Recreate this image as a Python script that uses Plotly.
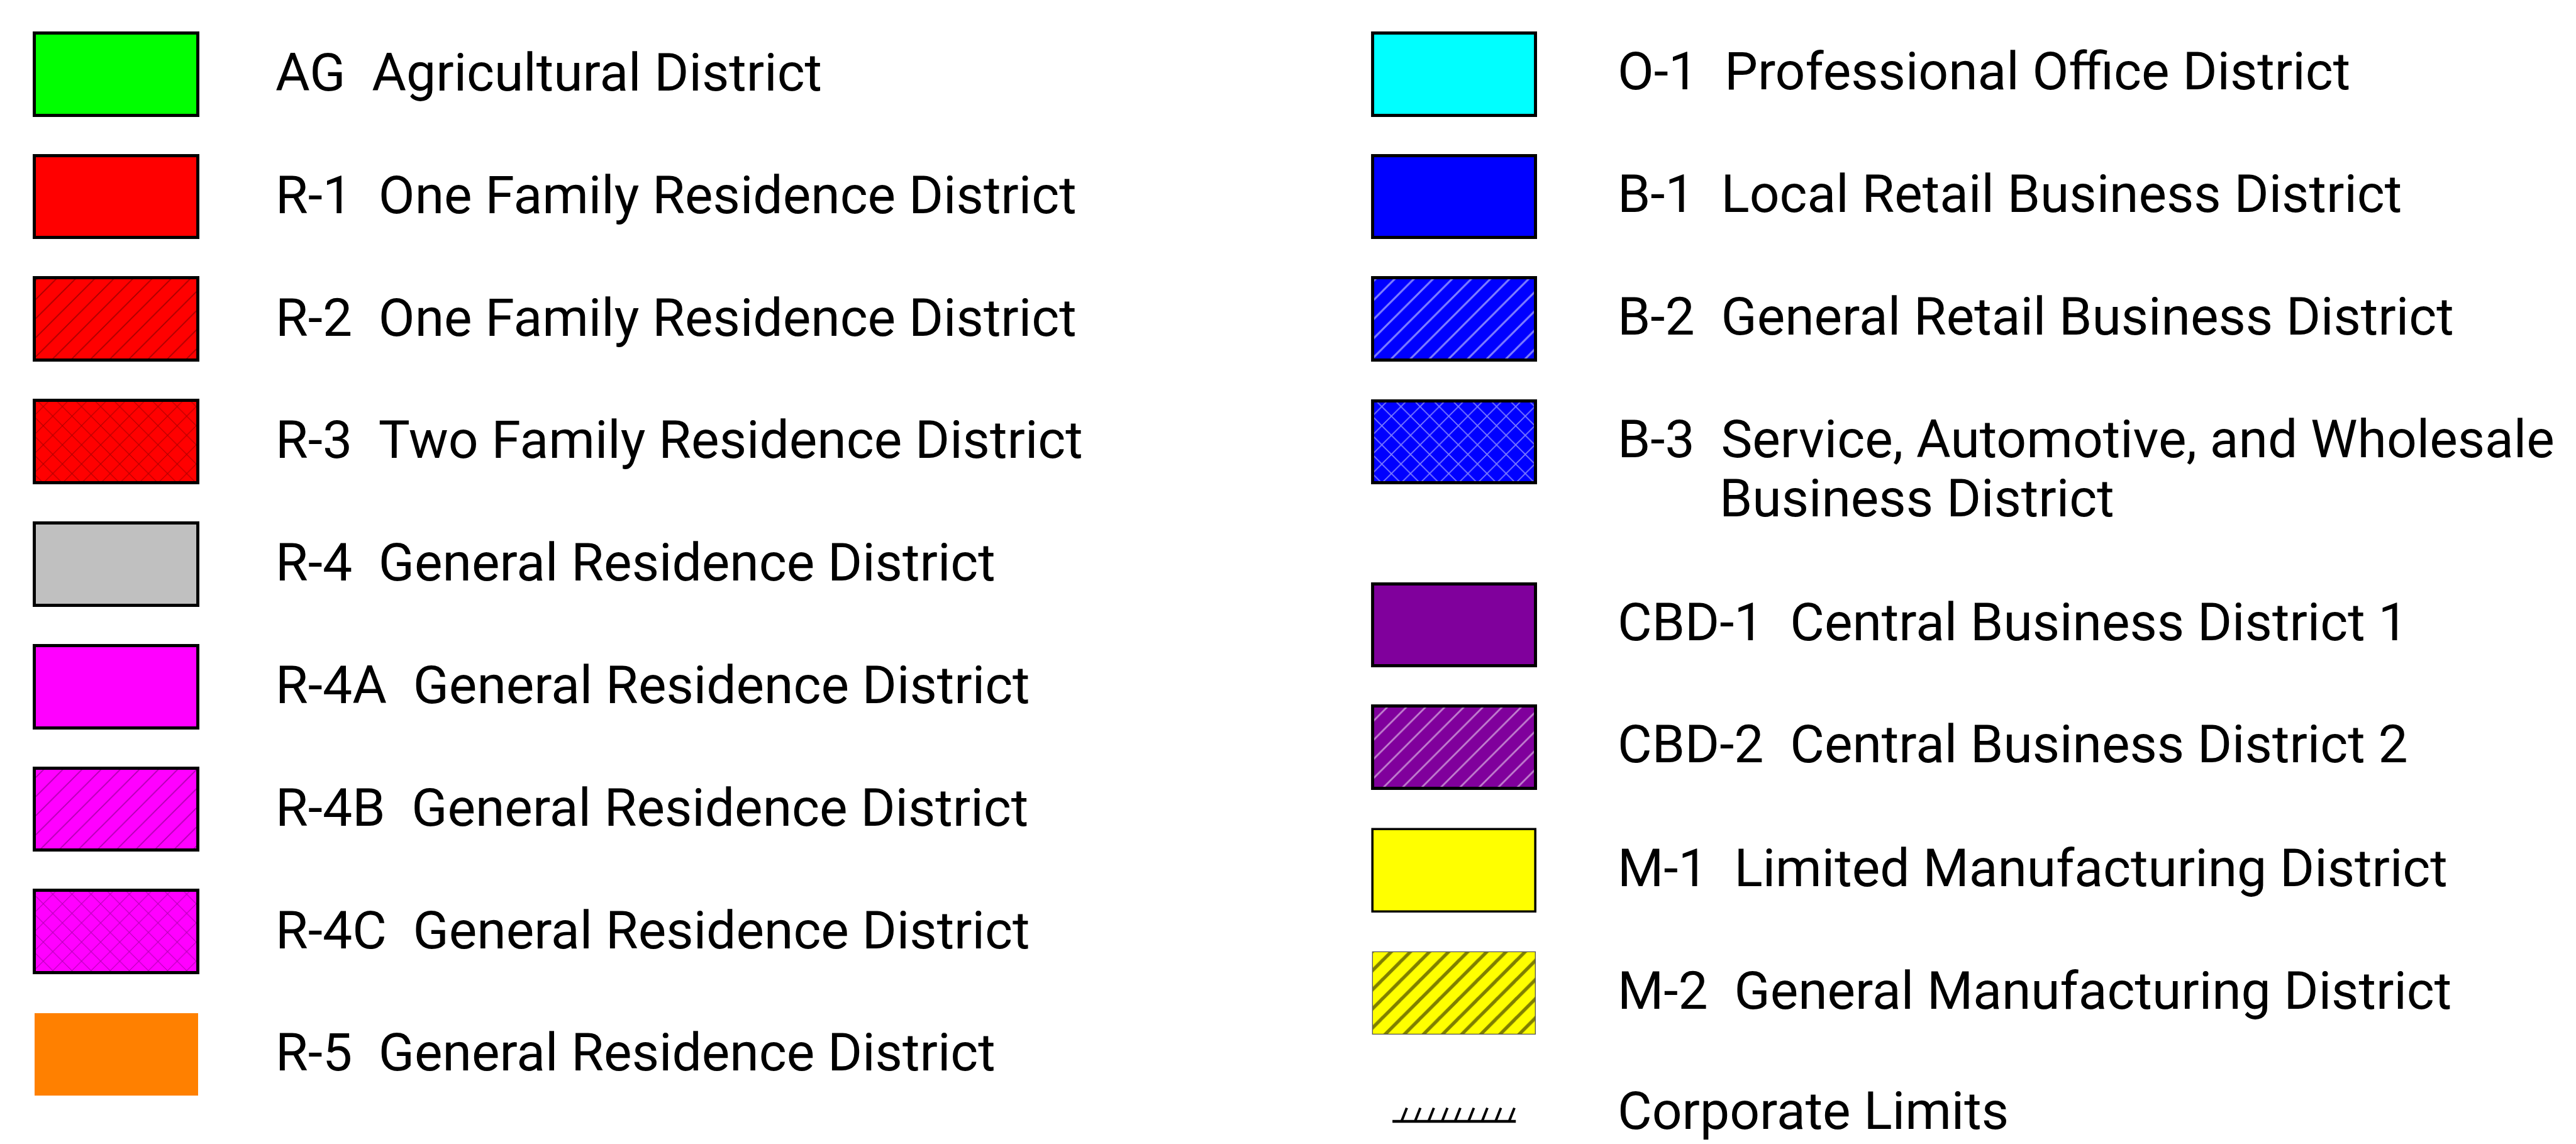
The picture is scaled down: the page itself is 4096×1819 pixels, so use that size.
import plotly.graph_objects as go

# ---------------- data ----------------
left_codes = ["AG", "R-1", "R-2", "R-3", "R-4", "R-4A", "R-4B", "R-4C", "R-5"]
left_names = ["Agricultural District", "One Family Residence District",
              "One Family Residence District", "Two Family Residence District",
              "General Residence District", "General Residence District",
              "General Residence District", "General Residence District",
              "General Residence District"]
left_fill = ["#00ff00", "#ff0000", "#ff0000", "#ff0000", "#c0c0c0",
             "#ff00ff", "#ff00ff", "#ff00ff", "#ff8000"]
left_pattern = ["", "", "/", "x", "", "", "/", "x", ""]

right_codes = ["O-1", "B-1", "B-2", "B-3", "CBD-1", "CBD-2", "M-1", "M-2"]
right_names = ["Professional Office District", "Local Retail Business District",
               "General Retail Business District",
               "Service, Automotive, and Wholesale",
               "Central Business District 1", "Central Business District 2",
               "Limited Manufacturing District", "General Manufacturing District"]
right_name_line2 = ["", "", "", "Business District", "", "", "", ""]
right_fill = ["#00ffff", "#0000ff", "#0000ff", "#0000ff", "#80009c",
              "#80009c", "#ffff00", "#ffff00"]
right_pattern = ["", "", "/", "x", "", "/", "", "/"]

limits_label = "Corporate Limits"

# ---------------- layout / styles ----------------
W_REF, H_REF = 4573, 2031
S = 4096 / W_REF

left_rows_y = [123, 340.5, 558, 775.5, 993, 1210.5, 1428, 1645.5, 1863]
right_rows_y = [123, 340.5, 558, 776, 1101, 1318, 1537, 1755]
limits_y = 1982
limits_x0, limits_x1 = 2463, 2682
limits_tick_x = [2479, 2503, 2527, 2551, 2574, 2598, 2622, 2646, 2670]

sw_w, sw_h = 290, 146
left_cx, right_cx = 198, 2573
left_text_x, right_text_x = 478, 2860
line2_x = 3041

hatch_fg = {
    "#ff0000": "#500000", "#ff00ff": "#600060",
    "#0000ff": "#ffffff", "#80009c": "#ffffff", "#ffff00": "#000000",
}
hatch_solid = {
    ("#ff0000", "/"): 0.085, ("#ff0000", "x"): 0.09,
    ("#ff00ff", "/"): 0.085, ("#ff00ff", "x"): 0.09,
    ("#0000ff", "/"): 0.14, ("#0000ff", "x"): 0.15,
    ("#80009c", "/"): 0.13, ("#ffff00", "/"): 0.25,
}
left_border = [5.5, 5.5, 5.5, 5.5, 5.5, 5.5, 5.5, 5.5, 0]
left_border_col = ["black"] * 9
right_border = [5.5, 5.5, 5.5, 5.5, 5.5, 5.5, 4, 1.5]
right_border_col = ["black"] * 7 + ["#555555"]

FONT = "Roboto"
FS = 84

fig = go.Figure()

def add_swatch(cx, y, fill, pat, border, bcol):
    marker = dict(color=fill, line=dict(width=border * S, color=bcol))
    if pat:
        marker["pattern"] = dict(shape=pat, fgcolor=hatch_fg.get(fill, "black"),
                                 bgcolor=fill, size=21.5,
                                 solidity=hatch_solid.get((fill, pat), 0.1),
                                 fillmode="overlay")
    fig.add_trace(go.Bar(
        x=[cx], y=[sw_h], base=[y - sw_h / 2], width=[sw_w],
        marker=marker, hoverinfo="skip", showlegend=False,
    ))

for y, f, p, b, c in zip(left_rows_y, left_fill, left_pattern, left_border, left_border_col):
    add_swatch(left_cx, y, f, p, b, c)
for y, f, p, b, c in zip(right_rows_y, right_fill, right_pattern, right_border, right_border_col):
    add_swatch(right_cx, y, f, p, b, c)

# corporate limits symbol
fig.add_trace(go.Scatter(x=[limits_x0, limits_x1], y=[limits_y, limits_y], mode="lines",
                         line=dict(color="black", width=5 * S),
                         hoverinfo="skip", showlegend=False))
tx, ty = [], []
for t in limits_tick_x:
    tx += [t, t + 9.5, None]
    ty += [limits_y, limits_y - 24, None]
fig.add_trace(go.Scatter(x=tx, y=ty, mode="lines",
                         line=dict(color="black", width=4.5 * S),
                         hoverinfo="skip", showlegend=False))

annotations = []
def label(x, y, text):
    annotations.append(dict(x=x, y=y, xref="x", yref="y", text=text,
                            showarrow=False, xanchor="left", yanchor="middle",
                            font=dict(family=FONT, size=FS, color="black")))

NB = "\u00a0\u00a0"
for code, name, y in zip(left_codes, left_names, left_rows_y):
    label(left_text_x, y - 3, code + NB + name)
for code, name, n2, y in zip(right_codes, right_names, right_name_line2, right_rows_y):
    label(right_text_x, y - 5, code + NB + name)
    if n2:
        label(line2_x, y + 100, n2)
label(right_text_x, limits_y - 18, limits_label)

fig.update_layout(
    width=4096, height=1819,
    margin=dict(l=0, r=0, t=0, b=0),
    paper_bgcolor="white", plot_bgcolor="white",
    barmode="overlay", bargap=0,
    xaxis=dict(range=[0, W_REF], visible=False, fixedrange=True),
    yaxis=dict(range=[H_REF, 0], visible=False, fixedrange=True),
    annotations=annotations,
)

fig.write_html("out.html")
